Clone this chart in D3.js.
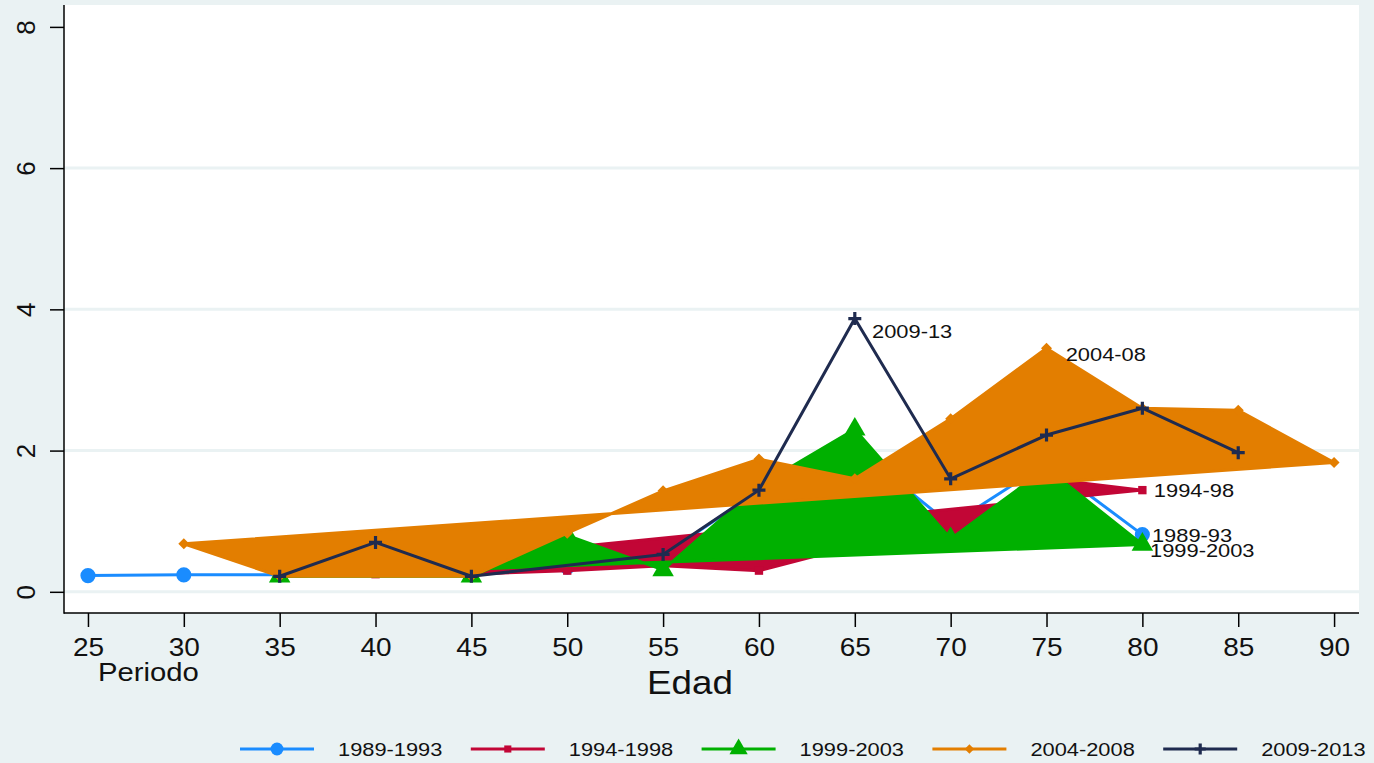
<!DOCTYPE html>
<html>
<head>
<meta charset="utf-8">
<script src="https://cdn.jsdelivr.net/npm/d3@7"></script>
<style>
  html, body { margin: 0; padding: 0; background: #eaf2f3; }
  svg { display: block; }
  text { font-family: "Liberation Sans", Arial, sans-serif; fill: #111; }
</style>
</head>
<body>
<svg id="chart" width="1374" height="763"></svg>
<script>
// ---- data ----
const ages = [25, 30, 35, 40, 45, 50, 55, 60, 65, 70, 75, 80, 85, 90];
const s1989 = [0.23, 0.24, 0.24, null, 0.26, 0.35, 0.52, 1.43, 2.05, 0.95, 1.82, 0.81, null, null];
const s1994 = [null, null, 0.22, 0.25, 0.25, 0.30, 0.37, 0.30, 0.65, 0.80, 1.60, 1.44, null, null];
const s1999 = [null, null, 0.22, null, 0.22, 0.80, 0.31, 1.50, 2.30, 0.75, 1.75, 0.67, null, null];
const s2004 = [null, 0.68, 0.22, null, 0.22, 0.83, 1.43, 1.88, 1.60, 2.45, 3.45, 2.60, 2.57, 1.83];
const s2009 = [null, null, 0.22, 0.70, 0.22, null, 0.53, 1.44, 3.87, 1.60, 2.22, 2.60, 1.97, null];
const seriesNames = ["1989-1993", "1994-1998", "1999-2003", "2004-2008", "2009-2013"];
const xTicks = [25, 30, 35, 40, 45, 50, 55, 60, 65, 70, 75, 80, 85, 90];
const yTicks = [0, 2, 4, 6, 8];
const gridTicks = [0, 2, 4, 6];
const labelText = ["2009-13", "2004-08", "1994-98", "1989-93", "1999-2003"];
const labelX = [65.9, 76.0, 80.6, 80.5, 80.4];
const labelY = [3.68, 3.36, 1.43, 0.80, 0.58];

// ---- styles ----
const styles = [
  { color: "#1a8cff", filled: false, marker: "circle" },
  { color: "#c20636", filled: true,  marker: "square" },
  { color: "#00b000", filled: true,  marker: "triangle" },
  { color: "#e37e00", filled: true,  marker: "diamond" },
  { color: "#1f2b4f", filled: false, marker: "plus" }
];
const allSeries = [s1989, s1994, s1999, s2004, s2009];

const svg = d3.select("#chart");
const W = 1374, H = 763;
const plot = { left: 64, right: 1359, top: 5, bottom: 613 };

svg.append("rect").attr("width", W).attr("height", H).attr("fill", "#eaf2f3");
svg.append("rect")
  .attr("x", plot.left).attr("y", plot.top)
  .attr("width", plot.right - plot.left).attr("height", plot.bottom - plot.top)
  .attr("fill", "#ffffff");

const x = d3.scaleLinear().domain([23.75, 91.3]).range([plot.left, plot.right]);
const y = d3.scaleLinear().domain([-0.3, 8.31]).range([plot.bottom, plot.top]);

function stretch(sel, sx) {
  sel.each(function () {
    const w = this.getComputedTextLength();
    this.setAttribute("textLength", w * sx);
    this.setAttribute("lengthAdjust", "spacingAndGlyphs");
  });
}

// grid
svg.append("g").selectAll("line").data(gridTicks).join("line")
  .attr("x1", plot.left).attr("x2", plot.right)
  .attr("y1", d => y(d)).attr("y2", d => y(d))
  .attr("stroke", "#eaf2f3").attr("stroke-width", 3);

// axes
const yAxis = d3.axisLeft(y).tickValues(yTicks).tickSize(14).tickFormat("");
const gy = svg.append("g").attr("transform", `translate(${plot.left},0)`).call(yAxis);
gy.select(".domain").remove();
gy.selectAll(".tick line").attr("stroke", "#000").attr("stroke-width", 1.5);
gy.selectAll(".tick").append("text")
  .attr("transform", "translate(-38,0) rotate(-90)")
  .attr("text-anchor", "middle").attr("dominant-baseline", "central")
  .attr("font-size", 26).text(d => d);

const xAxis = d3.axisBottom(x).tickValues(xTicks).tickSize(14).tickFormat("");
const gx = svg.append("g").attr("transform", `translate(0,${plot.bottom})`).call(xAxis);
gx.select(".domain").remove();
gx.selectAll(".tick line").attr("stroke", "#000").attr("stroke-width", 1.5);
const xl = gx.selectAll(".tick").append("text")
  .attr("y", 43).attr("text-anchor", "middle")
  .attr("font-size", 25).text(d => d);
stretch(xl, 1.12);

svg.append("line").attr("x1", plot.left).attr("x2", plot.left)
  .attr("y1", plot.top).attr("y2", plot.bottom + 0.75)
  .attr("stroke", "#000").attr("stroke-width", 1.5);
svg.append("line").attr("x1", plot.left).attr("x2", plot.right)
  .attr("y1", plot.bottom).attr("y2", plot.bottom)
  .attr("stroke", "#000").attr("stroke-width", 1.5);

// marker symbols
function markerPath(kind, size) {
  const map = { circle: d3.symbolCircle, square: d3.symbolSquare, triangle: d3.symbolTriangle };
  return d3.symbol().type(map[kind]).size(size)();
}
const markerSize = { circle: 180, square: 70, triangle: 200 };

function drawMarker(g, kind, cx, cy, color, scale) {
  scale = scale || 1;
  if (kind === "plus") {
    const r = 6.5 * scale;
    g.append("path").attr("d", `M${cx - r},${cy}H${cx + r}M${cx},${cy - r}V${cy + r}`)
      .attr("stroke", color).attr("stroke-width", 3.2).attr("fill", "none");
  } else if (kind === "diamond") {
    const r = 5.5 * scale;
    g.append("path").attr("d", `M${cx - r},${cy}L${cx},${cy - r}L${cx + r},${cy}L${cx},${cy + r}Z`)
      .attr("fill", color);
  } else {
    g.append("path").attr("d", markerPath(kind, markerSize[kind] * scale * scale))
      .attr("transform", `translate(${cx},${cy})`).attr("fill", color);
  }
}

// series
allSeries.forEach((vals, i) => {
  const st = styles[i];
  const pts = ages.map((a, k) => [a, vals[k]]).filter(p => p[1] !== null);
  const g = svg.append("g");
  const line = d3.line().x(p => x(p[0])).y(p => y(p[1]));
  if (st.filled) {
    g.append("path").attr("d", line(pts) + "Z")
      .attr("fill", st.color).attr("stroke", st.color).attr("stroke-width", 3)
      .attr("stroke-linejoin", "round");
  } else {
    g.append("path").attr("d", line(pts))
      .attr("fill", "none").attr("stroke", st.color).attr("stroke-width", 3)
      .attr("stroke-linejoin", "round");
  }
  pts.forEach(p => drawMarker(g, st.marker, x(p[0]), y(p[1]), st.color));
});

// annotations
labelText.forEach((t, i) => {
  const tx = svg.append("text")
    .attr("x", x(labelX[i])).attr("y", y(labelY[i]))
    .attr("dominant-baseline", "central")
    .attr("font-size", 19).text(t);
  stretch(tx, 1.15);
});

// axis titles
stretch(svg.append("text").attr("x", 98).attr("y", 681).attr("font-size", 25).text("Periodo"), 1.17);
stretch(svg.append("text").attr("x", 690).attr("y", 694).attr("text-anchor", "middle")
  .attr("font-size", 34).text("Edad"), 1.08);

// legend
const legY = 749;
seriesNames.forEach((name, i) => {
  const x0 = 240 + i * 230.8;
  const st = styles[i];
  const g = svg.append("g");
  g.append("line").attr("x1", x0).attr("x2", x0 + 74).attr("y1", legY).attr("y2", legY)
    .attr("stroke", st.color).attr("stroke-width", 3);
  drawMarker(g, st.marker, x0 + 37, legY, st.color, 0.85);
  const t = g.append("text").attr("x", x0 + 98).attr("y", legY)
    .attr("dominant-baseline", "central").attr("font-size", 18.5).text(name);
  stretch(t, 1.18);
});
</script>
</body>
</html>
